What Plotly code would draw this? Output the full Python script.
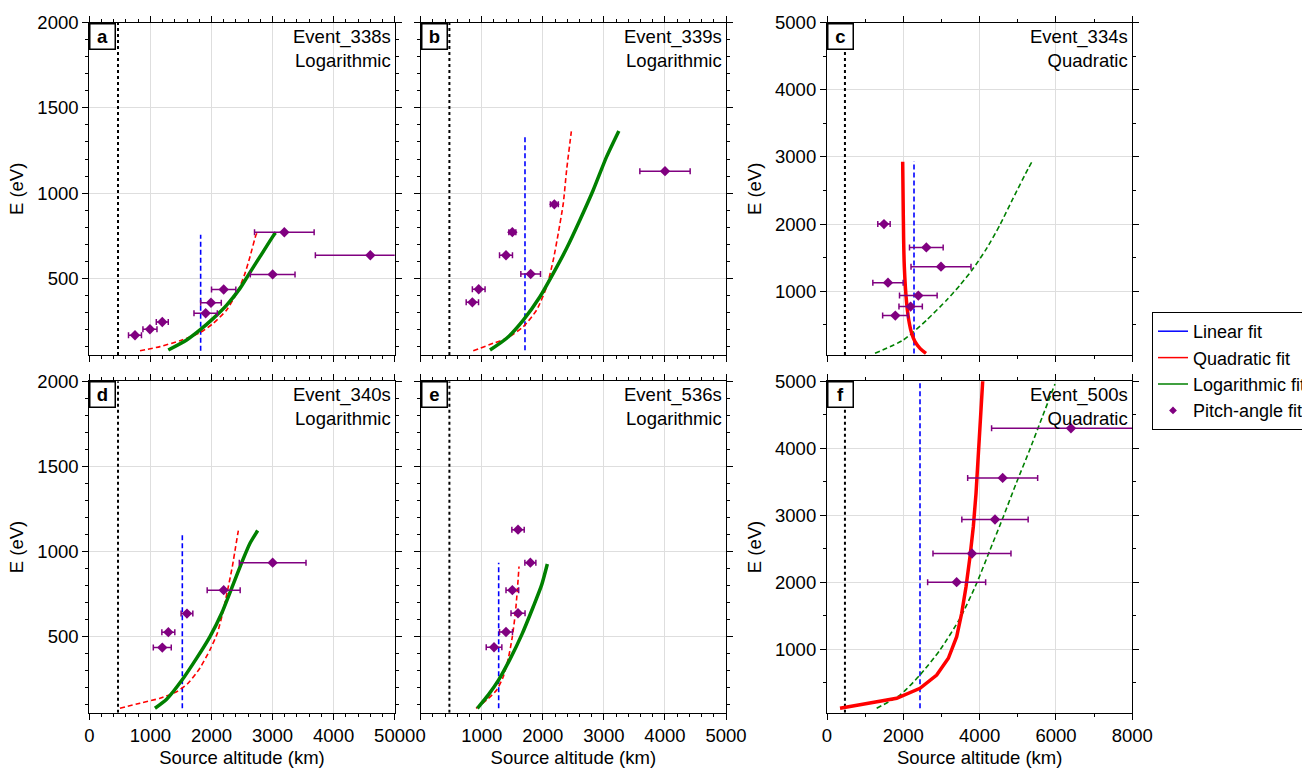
import plotly.graph_objects as go

# ---------------- data ----------------
ref_alt = 470  # black dotted reference altitude (km)

# Panel a: Event_338s
a_pa_alt = [748, 993, 1195, 1905, 1992, 2200, 3002, 3193, 4601]
a_pa_E = [166, 201, 244, 295, 357, 434, 523, 770, 635]
a_pa_err = [106, 115, 98, 191, 169, 199, 366, 488, 900]
a_lin_alt = 1823
a_lin_E = [75, 755]
a_quad_alt = [830, 1158, 1485, 1812, 2030, 2249, 2440, 2549, 2631, 2729, 2750]
a_quad_E = [75, 99, 134, 181, 236, 314, 431, 529, 627, 754, 766]
a_log_alt = [1293, 1594, 1812, 2030, 2249, 2467, 2603, 2795, 3040, 3055]
a_log_E = [79, 138, 197, 265, 343, 441, 519, 627, 764, 768]

# Panel b: Event_339s
b_pa_alt = [846, 950, 1397, 1501, 1801, 2189, 4001]
b_pa_E = [359, 436, 635, 771, 525, 934, 1129]
b_pa_err = [101, 104, 106, 57, 161, 65, 412]
b_lin_alt = 1708
b_lin_E = [78, 1345]
b_quad_alt = [861, 1189, 1408, 1680, 1899, 2063, 2171, 2253, 2335, 2390, 2467]
b_quad_E = [75, 119, 148, 216, 314, 451, 607, 764, 940, 1136, 1362]
b_log_alt = [1135, 1408, 1680, 1953, 2171, 2390, 2608, 2826, 3045, 3245]
b_log_E = [79, 148, 255, 392, 529, 676, 842, 1018, 1214, 1365]

# Panel c: Event_334s
c_pa_alt = [1493, 2603, 2987, 1598, 2393, 2192, 1790]
c_pa_E = [2000, 1653, 1366, 1128, 935, 771, 637]
c_pa_err = [162, 441, 786, 397, 493, 306, 332]
c_lin_alt = 2280
c_lin_E = [72, 2937]
c_quad_alt = [1983, 2000, 2026, 2088, 2157, 2218, 2306, 2437, 2594]
c_quad_E = [2929, 2110, 1365, 820, 522, 373, 248, 149, 75]
c_log_alt = [1258, 2000, 2612, 3137, 3485, 3834, 4185, 4533, 4882, 5275, 5380]
c_log_E = [75, 273, 571, 869, 1090, 1341, 1639, 1990, 2390, 2831, 2937]

# Panel d: Event_340s
d_pa_alt = [1195, 1294, 1599, 2200, 3002]
d_pa_E = [433, 524, 633, 771, 933]
d_pa_err = [147, 106, 96, 270, 546]
d_lin_alt = 1523
d_lin_E = [76, 1112]
d_quad_alt = [502, 830, 1157, 1430, 1621, 1812, 1976, 2096, 2183, 2265, 2342, 2396, 2440]
d_quad_E = [76, 106, 135, 173, 225, 313, 420, 518, 635, 773, 910, 1027, 1122]
d_log_alt = [1075, 1266, 1512, 1758, 1976, 2167, 2320, 2495, 2631, 2757]
d_log_E = [76, 129, 239, 371, 498, 635, 773, 933, 1047, 1122]

# Panel e: Event_536s
e_pa_alt = [1201, 1397, 1594, 1501, 1796, 1594]
e_pa_E = [435, 525, 635, 771, 933, 1127]
e_pa_err = [128, 106, 115, 104, 90, 101]
e_lin_alt = 1277
e_lin_E = [76, 933]
e_quad_alt = [906, 1081, 1245, 1354, 1436, 1501, 1550, 1583, 1610]
e_quad_E = [76, 125, 184, 263, 371, 498, 635, 773, 910]
e_log_alt = [928, 1108, 1277, 1463, 1654, 1845, 1981, 2074]
e_log_E = [76, 155, 243, 365, 508, 675, 802, 925]

# Panel f: Event_500s
f_pa_alt = [3397, 3799, 4402, 4603, 6393]
f_pa_E = [2000, 2428, 2935, 3557, 4299]
f_pa_err = [760, 1022, 869, 917, 2080]
f_lin_alt = 2437
f_lin_E = [116, 5100]
f_quad_alt = [341, 1826, 2437, 2874, 3180, 3398, 3529, 3643, 3747, 3834, 3905, 3965, 4027, 4085]
f_quad_E = [116, 265, 414, 613, 863, 1185, 1535, 1932, 2380, 2828, 3327, 3874, 4422, 5050]
f_log_alt = [1302, 1913, 2437, 2961, 3485, 3922, 4271, 4621, 4960, 5300, 5650, 5974]
f_log_E = [116, 314, 613, 987, 1460, 1983, 2480, 2978, 3480, 3960, 4480, 4960]

panel_letters = ["a", "b", "c", "d", "e", "f"]
event_names = ["Event_338s", "Event_339s", "Event_334s", "Event_340s", "Event_536s", "Event_500s"]
best_fits = ["Logarithmic", "Logarithmic", "Quadratic", "Logarithmic", "Logarithmic", "Quadratic"]
x_ranges = [[0, 5000], [0, 5000], [0, 8000], [0, 5000], [0, 5000], [0, 8000]]
y_ranges = [[50, 2000], [50, 2000], [50, 5000], [50, 2000], [50, 2000], [50, 5000]]
legend_names = ["Linear fit", "Quadratic fit", "Logarithmic fit", "Pitch-angle fit"]

# ---------------- styling ----------------
FONT = "Liberation Sans, Arial, Helvetica, sans-serif"
FS = 18.5
W, H = 1302, 770
COL_PX = [(89.3, 394.7), (420.7, 726.0), (827.0, 1132.3)]
ROW_PX = [(22.7, 355.0), (381.3, 712.7)]
BLUE, RED, GREEN, PURPLE = "blue", "red", "green", "purple"

panels = [
    (a_pa_alt, a_pa_E, a_pa_err, a_lin_alt, a_lin_E, a_quad_alt, a_quad_E, a_log_alt, a_log_E),
    (b_pa_alt, b_pa_E, b_pa_err, b_lin_alt, b_lin_E, b_quad_alt, b_quad_E, b_log_alt, b_log_E),
    (c_pa_alt, c_pa_E, c_pa_err, c_lin_alt, c_lin_E, c_quad_alt, c_quad_E, c_log_alt, c_log_E),
    (d_pa_alt, d_pa_E, d_pa_err, d_lin_alt, d_lin_E, d_quad_alt, d_quad_E, d_log_alt, d_log_E),
    (e_pa_alt, e_pa_E, e_pa_err, e_lin_alt, e_lin_E, e_quad_alt, e_quad_E, e_log_alt, e_log_E),
    (f_pa_alt, f_pa_E, f_pa_err, f_lin_alt, f_lin_E, f_quad_alt, f_quad_E, f_log_alt, f_log_E),
]

fig = go.Figure()
layout = dict(
    width=W, height=H,
    margin=dict(l=0, r=0, t=0, b=0, autoexpand=False),
    paper_bgcolor="white", plot_bgcolor="white",
    font=dict(family=FONT, size=FS, color="black"),
    showlegend=True,
    legend=dict(x=1152 / W, y=1 - 312 / H, xanchor="left", yanchor="top",
                bordercolor="black", borderwidth=1, bgcolor="white",
                font=dict(size=18, color="black"), tracegroupgap=0),
)
annotations = []

for i, (pa_alt, pa_E, pa_err, lin_alt, lin_E, q_alt, q_E, l_alt, l_E) in enumerate(panels):
    r, c = divmod(i, 3)
    n = "" if i == 0 else str(i + 1)
    xa, ya = "x" + n, "y" + n
    x0, x1 = COL_PX[c]
    y0, y1 = ROW_PX[r]
    big = x_ranges[i][1] > 5000
    xdt, xmin = (2000, 1000) if big else (1000, 200)
    ydt, ymin = (1000, 500) if big else (500, 100)
    common = dict(showline=True, linecolor="black", linewidth=1.2, mirror="ticks",
                  ticks="outside", ticklen=6, tickwidth=1.2, tickcolor="black",
                  showgrid=True, gridcolor="#dedede", gridwidth=1, zeroline=False,
                  tickfont=dict(size=FS, color="black"), tick0=0)
    xaxis = dict(common, domain=[x0 / W, x1 / W], anchor=ya, range=x_ranges[i], dtick=xdt,
                 minor=dict(dtick=xmin, tick0=0, ticks="outside", ticklen=3, tickwidth=1,
                            tickcolor="black", showgrid=False),
                 showticklabels=(r == 1))
    if r == 1:
        xaxis["title"] = dict(text="Source altitude (km)", font=dict(size=FS), standoff=6)
    yaxis = dict(common, domain=[1 - y1 / H, 1 - y0 / H], anchor=xa, range=y_ranges[i], dtick=ydt,
                 minor=dict(dtick=ymin, tick0=0, ticks="outside", ticklen=3, tickwidth=1,
                            tickcolor="black", showgrid=False),
                 showticklabels=(c != 1))
    if c != 1:
        yaxis["title"] = dict(text="E (eV)", font=dict(size=FS), standoff=8)
    layout["xaxis" + n] = xaxis
    layout["yaxis" + n] = yaxis

    quad_best = best_fits[i] == "Quadratic"
    # reference altitude dotted line
    fig.add_trace(go.Scatter(x=[ref_alt, ref_alt], y=y_ranges[i], mode="lines",
                             line=dict(color="black", width=2, dash="dot"),
                             showlegend=False, hoverinfo="skip", xaxis=xa, yaxis=ya))
    # linear fit
    fig.add_trace(go.Scatter(x=[lin_alt, lin_alt], y=lin_E, mode="lines",
                             line=dict(color=BLUE, width=1.6, dash="5px,3px"),
                             showlegend=False, xaxis=xa, yaxis=ya))
    q_shape = "linear" if i == 5 else "spline"
    quad_tr = go.Scatter(x=q_alt, y=q_E, mode="lines",
                         line=dict(color=RED, width=3.5, shape=q_shape) if quad_best else
                         dict(color=RED, width=1.6, dash="5px,3px", shape="spline", smoothing=0.6),
                         showlegend=False, xaxis=xa, yaxis=ya)
    log_tr = go.Scatter(x=l_alt, y=l_E, mode="lines",
                        line=dict(color=GREEN, width=1.6, dash="5px,3px", shape="spline", smoothing=0.6)
                        if quad_best else dict(color=GREEN, width=3.5, shape="spline", smoothing=0.6),
                        showlegend=False, xaxis=xa, yaxis=ya)
    if quad_best:
        fig.add_trace(log_tr); fig.add_trace(quad_tr)
    else:
        fig.add_trace(quad_tr); fig.add_trace(log_tr)
    # pitch-angle points
    fig.add_trace(go.Scatter(x=pa_alt, y=pa_E, mode="markers",
                             marker=dict(symbol="diamond", size=8, color=PURPLE),
                             error_x=dict(type="data", array=pa_err, color=PURPLE,
                                          thickness=1.5, width=3),
                             showlegend=False, xaxis=xa, yaxis=ya))

    # panel letter box
    annotations.append(dict(text="<b>%s</b>" % panel_letters[i], xref=xa + " domain", yref=ya + " domain",
                            x=0, y=1, xanchor="left", yanchor="top", showarrow=False,
                            font=dict(size=FS, color="black"), bgcolor="white",
                            bordercolor="black", borderwidth=1.5, borderpad=1,
                            width=22, height=22))
    annotations.append(dict(text="%s<br>%s" % (event_names[i], best_fits[i]),
                            xref=xa + " domain", yref=ya + " domain", x=1, y=1,
                            xanchor="right", yanchor="top", align="right", showarrow=False,
                            xshift=-2, yshift=-1, font=dict(size=FS, color="black")))

# legend-only traces
leg_colors = [BLUE, RED, GREEN]
for name, col in zip(legend_names[:3], leg_colors):
    fig.add_trace(go.Scatter(x=[None], y=[None], mode="lines", name=name,
                             line=dict(color=col, width=1.5)))
fig.add_trace(go.Scatter(x=[None], y=[None], mode="markers", name=legend_names[3],
                         marker=dict(symbol="diamond", size=6, color=PURPLE)))

layout["annotations"] = annotations
fig.update_layout(**layout)
fig.write_html("out.html")
